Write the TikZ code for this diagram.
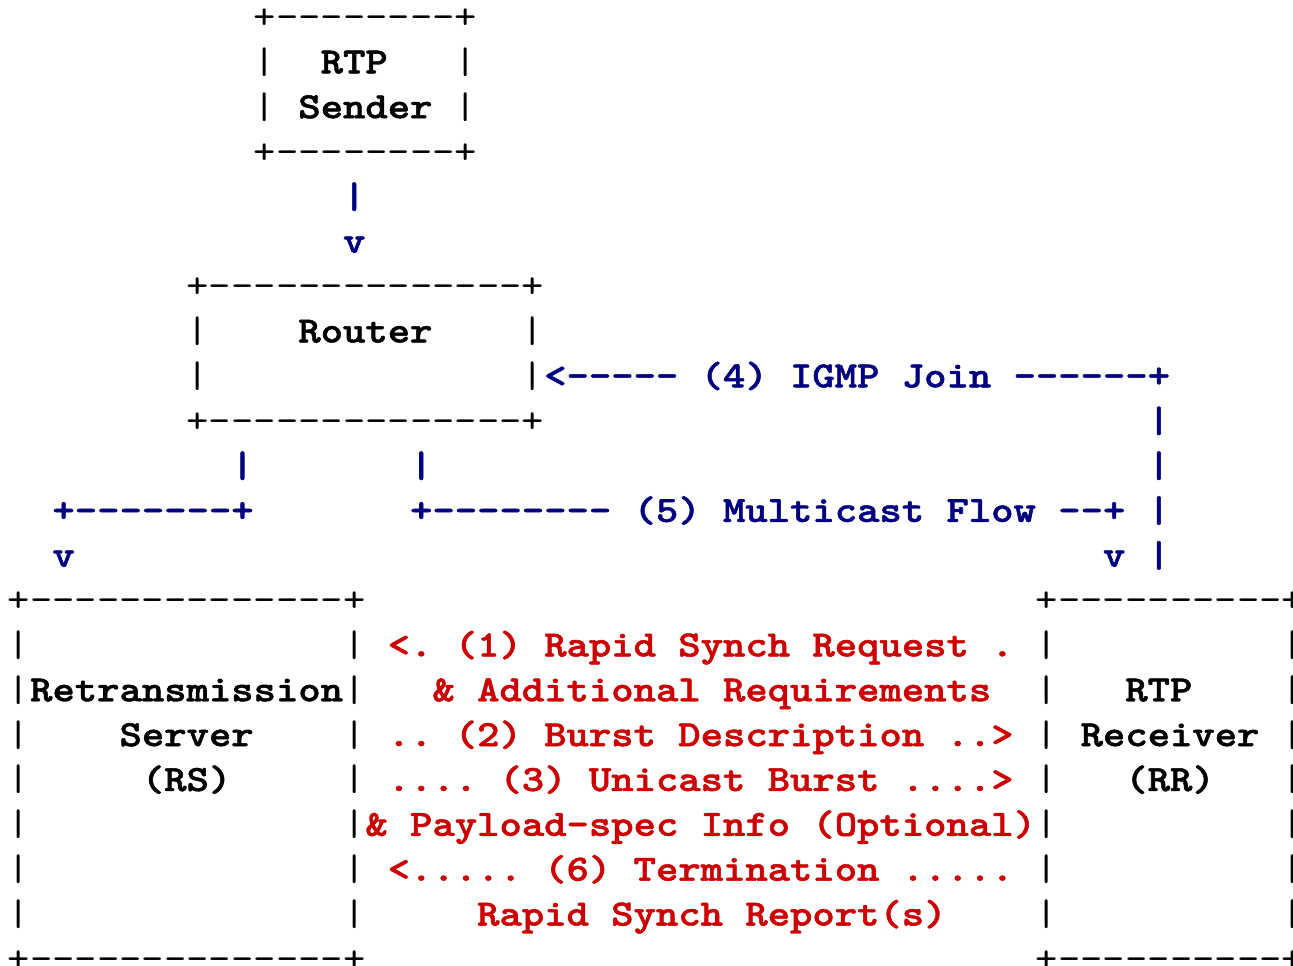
\documentclass[tikz,border=0pt]{standalone}
\usepackage{fontspec}
\usepackage{tikz}

\newfontfamily\asciireg{lmmono10-regular.otf}
\newfontfamily\asciibold{lmmonolt10-bold.otf}[FakeBold=1.3]
\definecolor{flownavy}{RGB}{0,0,128}
\definecolor{msgred}{RGB}{204,0,0}

% n hyphens, kerned apart so no dash ligature forms
\newcommand{\dsh}[1]{\foreach \k in {1,...,#1}{-\kern0pt}}
\newcommand{\asciisize}{\fontsize{18.5}{18.5}\selectfont\frenchspacing}

\begin{document}
\begin{tikzpicture}[x=11.175pt,y=-22.425pt,
  every node/.style={anchor=base west,inner sep=0pt,outer sep=0pt,xscale=1.1506},
  box/.style={text=black,font=\asciisize\asciireg},
  lbl/.style={text=black,font=\asciisize\asciibold},
  flow/.style={text=flownavy,font=\asciisize\asciibold},
  msg/.style={text=msgred,font=\asciisize\asciibold}]
  \useasboundingbox (-0.349,-0.6355) rectangle (57.503,20.881);

  % RTP sender
  \node[box] (sndtop) at (11,0) {+\dsh{8}+};
  \node[box] (sndl1) at (11,1) {|};
  \node[lbl] (sndname1) at (14,1) {RTP};
  \node[box] (sndr1) at (20,1) {|};
  \node[box] (sndl2) at (11,2) {|};
  \node[lbl] (sndname2) at (13,2) {Sender};
  \node[box] (sndr2) at (20,2) {|};
  \node[box] (sndbot) at (11,3) {+\dsh{8}+};
  \node[flow] (sndbar) at (15,4) {|};
  \node[flow] (sndtip) at (15,5) {v};

  % router
  \node[box] (rtrtop) at (8,6) {+\dsh{14}+};
  \node[box] (rtrl1) at (8,7) {|};
  \node[lbl] (rtrname) at (13,7) {Router};
  \node[box] (rtrr1) at (23,7) {|};
  \node[box] (rtrl2) at (8,8) {|};
  \node[box] (rtrr2) at (23,8) {|};
  \node[flow] (igmp) at (24,8) {<\dsh{5} (4) IGMP Join \dsh{6}+};
  \node[box] (rtrbot) at (8,9) {+\dsh{14}+};

  % flows below the router
  \foreach \r in {9,...,12}
    \node[flow] (joinbar\r) at (51,\r) {|};
  \node[flow] (rsbar) at (10,10) {|};
  \node[flow] (mcbar) at (18,10) {|};
  \node[flow] (rsturn) at (2,11) {+\dsh{7}+};
  \node[flow] (mcast) at (18,11) {+\dsh{8} (5) Multicast Flow \dsh{2}+};
  \node[flow] (rstip) at (2,12) {v};
  \node[flow] (rrtip) at (49,12) {v};

  % retransmission server and receiver
  \node[box] (rstop) at (0,13) {+\dsh{14}+};
  \node[box] (rrtop) at (46,13) {+\dsh{10}+};
  \foreach \r in {14,...,20} {
    \node[box] (rsl\r) at (0,\r) {|};
    \node[box] (rsr\r) at (15,\r) {|};
    \node[box] (rrl\r) at (46,\r) {|};
    \node[box] (rrr\r) at (57,\r) {|};
  }
  \node[box] (rsbot) at (0,21) {+\dsh{14}+};
  \node[box] (rrbot) at (46,21) {+\dsh{10}+};
  \node[lbl] (rsname1) at (1,15) {Retransmission};
  \node[lbl] (rsname2) at (5,16) {Server};
  \node[lbl] (rsname3) at (6,17) {(RS)};
  \node[lbl] (rrname1) at (50,15) {RTP};
  \node[lbl] (rrname2) at (48,16) {Receiver};
  \node[lbl] (rrname3) at (50,17) {(RR)};

  % messages between RS and RR
  \node[msg] (req) at (17,14) {<. (1) Rapid Synch Request .};
  \node[msg] (reqadd) at (19,15) {\& Additional Requirements};
  \node[msg] (desc) at (17,16) {.. (2) Burst Description ..>};
  \node[msg] (burst) at (17,17) {.... (3) Unicast Burst ....>};
  \node[msg] (burstadd) at (16,18) {\& Payload-spec Info (Optional)};
  \node[msg] (term) at (17,19) {<..... (6) Termination .....};
  \node[msg] (termadd) at (21,20) {Rapid Synch Report(s)};
\end{tikzpicture}
\end{document}
